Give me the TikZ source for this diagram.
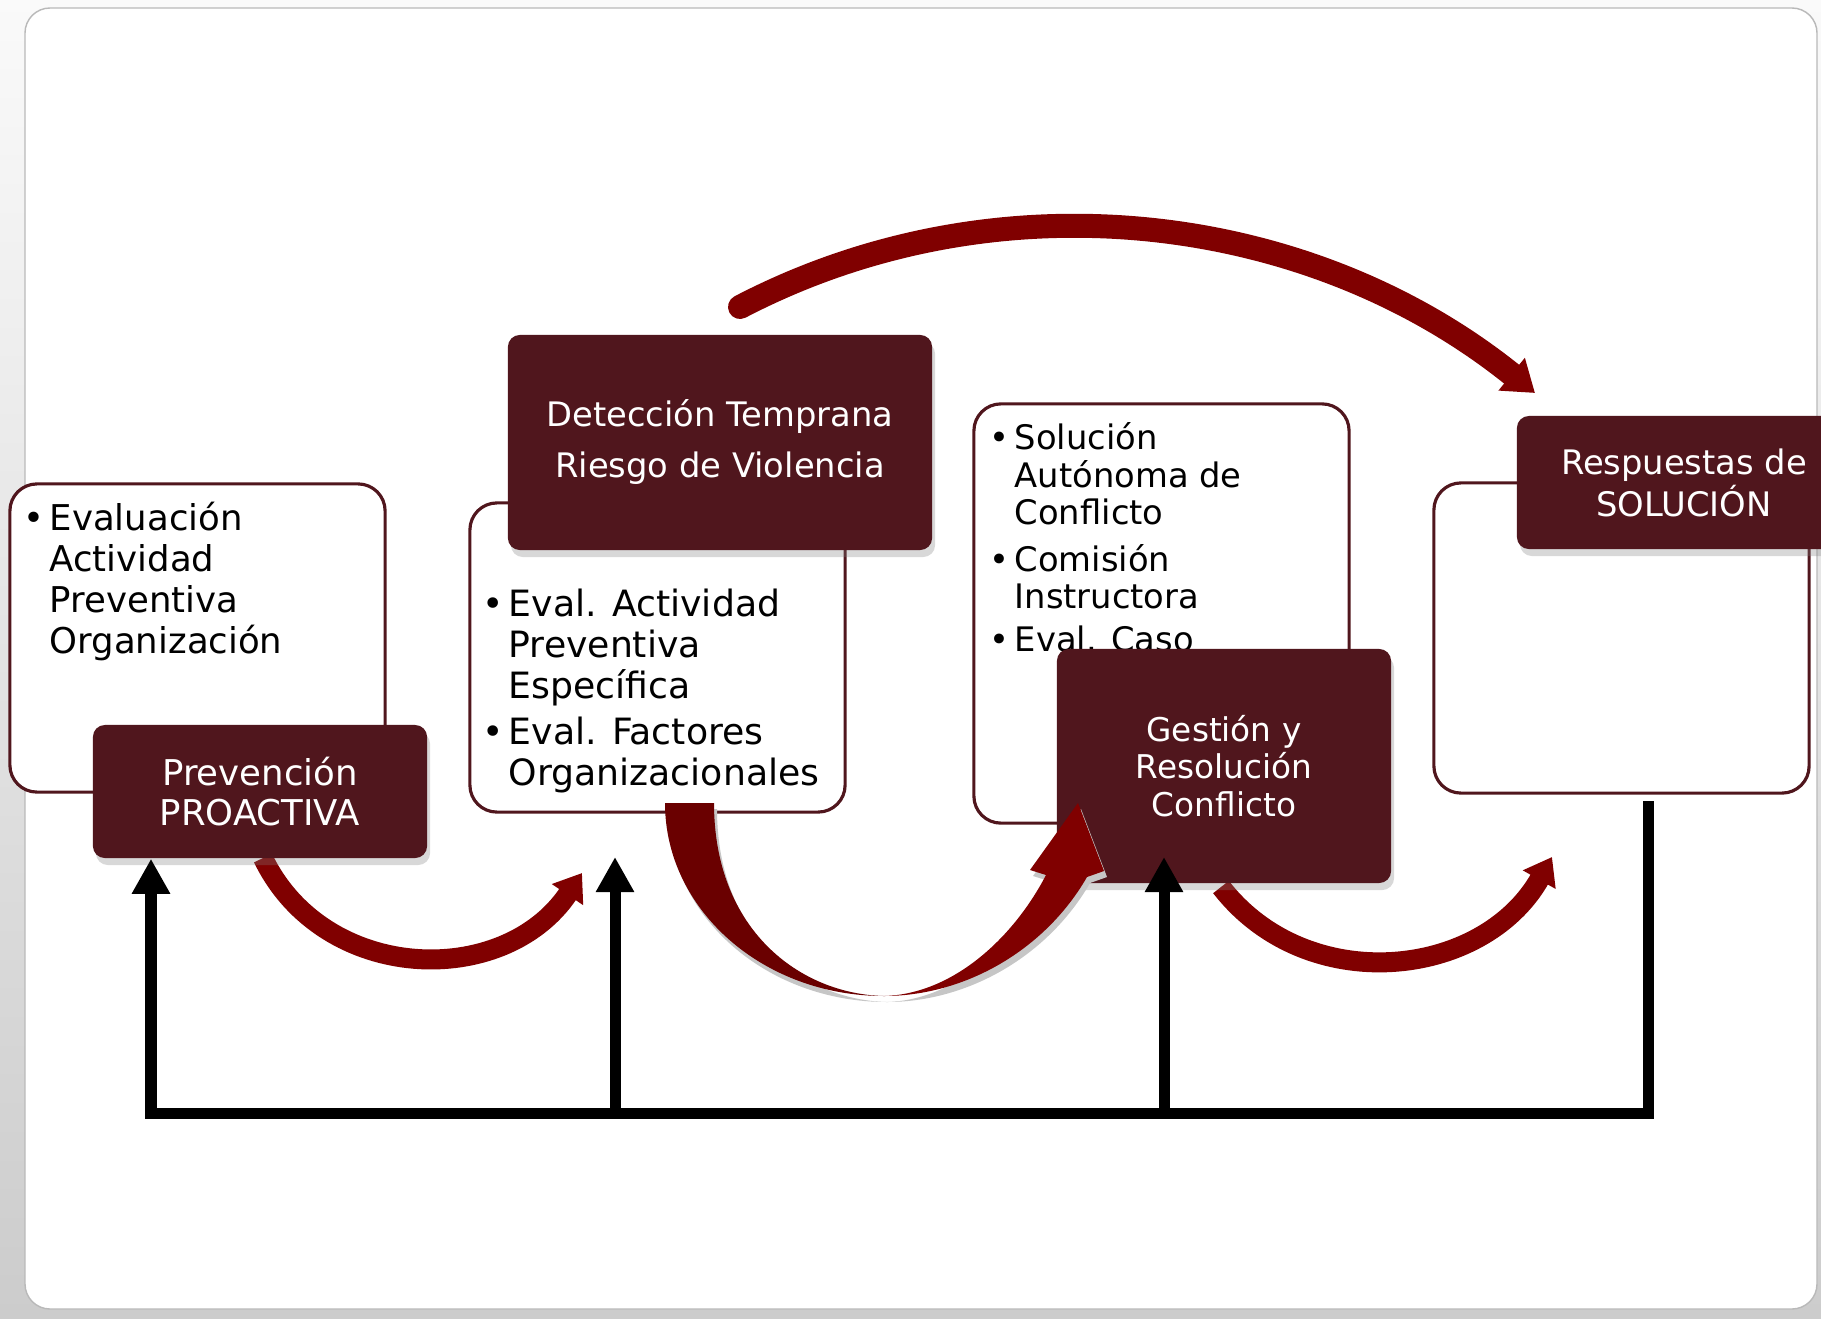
\documentclass[tikz,border=0pt]{standalone}
\usepackage{fontspec}
\setmainfont{DejaVu Sans}
\usetikzlibrary{arrows.meta,shadows}
\definecolor{boxred}{RGB}{80,22,29}
\definecolor{arrred}{RGB}{128,0,0}
\definecolor{ribred}{RGB}{106,0,0}
\newcommand{\bul}{\llap{\textbullet\hspace{1.5pt}}}
\newcommand{\ribleft}{(665,803) .. controls (665,910) and (763,996) .. (884,996)
      .. controls (800,994) and (714,930) .. (714,803) -- cycle}
\newcommand{\ribright}{(884,996) .. controls (965,996) and (1045,950) .. (1087,877) -- (1104,871)
      -- (1078,803) -- (1030,870) -- (1046,875) .. controls (1015,935) and (955,994) .. (884,996) -- cycle}

\begin{document}
\begin{tikzpicture}[x=0.01cm,y=-0.01cm,
   wbox/.style={draw=boxred,line width=0.9pt,fill=white,rounded corners=0.27cm,minimum width=3.75cm,inner sep=0pt},
   dbox/.style={fill=boxred,text=white,rounded corners=0.12cm,align=center,inner sep=0pt,
                drop shadow={opacity=0.3,shadow xshift=0.03cm,shadow yshift=-0.07cm}},
   btext/.style={anchor=north west,align=left,inner sep=0pt},
   bus/.style={line width=0.11cm},
   bushead/.style={-{Triangle[length=0.35cm,width=0.36cm]}},
   redarc/.style={draw=arrred,line width=0.2cm,-{Triangle[length=0.26cm,width=0.36cm]}}]
   \useasboundingbox (0,0) rectangle (1821,1318);
   \clip (0,0) rectangle (1821,1318);
   \shade[top color=gray!4,bottom color=gray!40] (0,0) rectangle (1821,1318);
   \draw[gray!55,fill=white,rounded corners=0.25cm] (25,8) rectangle (1817,1309);

   \node[wbox,minimum height=3.08cm] (ev1) at (197.5,638) {};
   \node[wbox,minimum height=3.09cm] (ev2) at (657.5,657.5) {};
   \node[wbox,minimum height=4.19cm] (ev3) at (1161.5,613.5) {};
   \node[wbox,minimum height=3.10cm] (ev4) at (1621.5,638) {};

   \node[btext,font=\fontsize{10.1}{11.7}\selectfont] (tx1) at (49,501)
      {\bul Evaluación\\Actividad\\Preventiva\\Organización};
   \node[btext,font=\fontsize{10.3}{11.7}\selectfont] (tx2) at (508,588)
      {\bul Eval. Actividad\\Preventiva\\Específica\\[1.4pt]\bul Eval. Factores\\Organizacionales};
   \node[btext,font=\fontsize{9.6}{10.7}\selectfont] (tx3) at (1014,422)
      {\bul Solución\\Autónoma de\\Conflicto\\[2.4pt]\bul Comisión\\Instructora\\[1.6pt]\bul Eval. Caso};

   \coordinate (p1s) at (263,858);
   \coordinate (p1e) at (582,873);
   \coordinate (p4s) at (1221,887);
   \coordinate (p4e) at (1552,857);
   \coordinate (p3s) at (740,307);
   \coordinate (p3e) at (1535,393);
   \draw[redarc] (p1s) .. controls +(61,126) and +(-78,116) .. (p1e);
   \draw[redarc] (p4s) .. controls +(86,111) and +(-69,122) .. (p4e);
   \draw[redarc,line width=0.24cm,line cap=round,-{Triangle[length=0.3cm,width=0.4cm]}]
      (p3s) .. controls +(257,-134) and +(-226,-182) .. (p3e);

   \node[dbox,minimum width=3.34cm,minimum height=1.33cm,font=\fontsize{10.1}{11.4}\selectfont] (pro) at (260,791.5)
      {Prevención\\PROACTIVA};
   \node[dbox,minimum width=4.24cm,minimum height=2.15cm,font=\fontsize{9.6}{14.5}\selectfont] (det) at (720,442.5)
      {Detección Temprana\\Riesgo de Violencia};
   \node[dbox,minimum width=3.34cm,minimum height=2.34cm,font=\fontsize{9.3}{10.7}\selectfont] (ges) at (1224,766)
      {Gestión y\\Resolución\\Conflicto};
   \node[dbox,minimum width=3.34cm,minimum height=1.33cm,font=\fontsize{9.6}{10.8}\selectfont] (res) at (1684,482.5)
      {Respuestas de\\SOLUCIÓN};

   \fill[gray!45,shift={(3,6)}] \ribleft;
   \fill[gray!45,shift={(3,6)}] \ribright;
   \fill[ribred] \ribleft;
   \fill[arrred] \ribright;

   \coordinate (k1) at (151,1113);
   \coordinate (k2) at (615,1113);
   \coordinate (k3) at (1164,1113);
   \coordinate (k4) at (1648,1113);
   \coordinate (h2) at (615,857);
   \coordinate (h3) at (1164,857);
   \coordinate (e4) at (1648,801);
   \draw[bus,{Triangle[length=0.35cm,width=0.36cm]}-] (pro.south -| k1) -- (k1) -- (k4) -- (e4);
   \draw[bus,bushead] (k2) -- (h2);
   \draw[bus,bushead] (k3) -- (h3);
\end{tikzpicture}
\end{document}
